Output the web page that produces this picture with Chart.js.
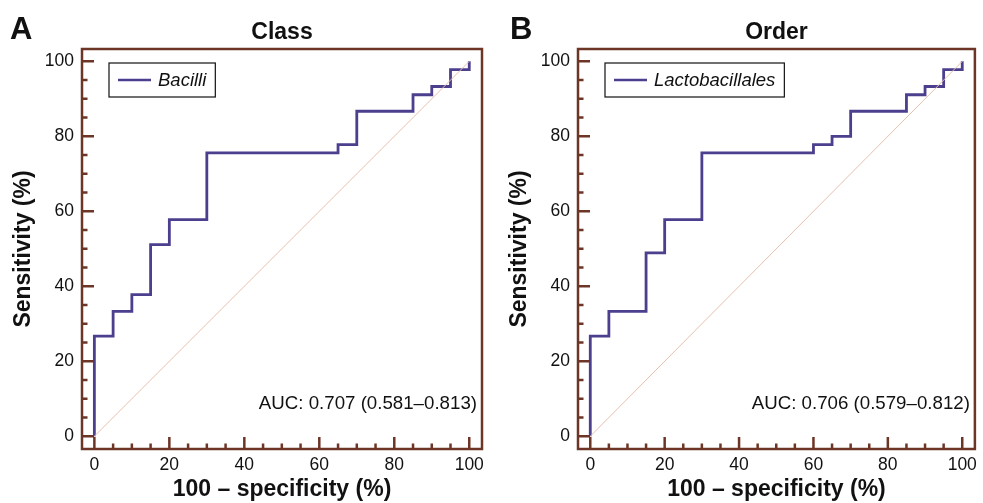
<!DOCTYPE html>
<html>
<head>
<meta charset="utf-8">
<script src="https://cdn.jsdelivr.net/npm/chart.js@4.4.1/dist/chart.umd.min.js"></script>
<style>
  html, body { margin: 0; padding: 0; background: #fff; }
  #wrap { position: relative; width: 983px; height: 503px; }
  .panel { position: absolute; top: 0; height: 503px; }
</style>
</head>
<body>
<div id="wrap">
  <div class="panel" style="left:0;width:496px"><canvas id="classChart"></canvas></div>
  <div class="panel" style="left:496px;width:487px"><canvas id="orderChart"></canvas></div>
</div>
<script>
// ROC operating points (100 - specificity, sensitivity), drawn as a step line
const classFpr = [0, 0, 5, 10, 15, 20, 30, 65, 70, 85, 90, 95, 100];
const classSens = [0, 26.7, 33.3, 37.8, 51.1, 57.8, 75.6, 77.8, 86.7, 91.1, 93.3, 97.8, 100];

const orderFpr = [0, 0, 5, 15, 20, 30, 60, 65, 70, 85, 90, 95, 100];
const orderSens = [0, 26.7, 33.3, 48.9, 57.8, 75.6, 77.8, 80, 86.7, 91.1, 93.3, 97.8, 100];

const refX = [0, 100];
const refY = [0, 100];

const tickValues = [0, 20, 40, 60, 80, 100];
const minorTickValues = [0, 5, 10, 15, 20, 25, 30, 35, 40, 45, 50, 55, 60, 65, 70, 75, 80, 85, 90, 95, 100];

const FONT = 'Liberation Sans, Arial, sans-serif';
const FRAME = '#6d3526';
const ROC_COLOR = '#4b3f8e';

const toPoints = (xs, ys) => xs.map((x, i) => ({ x: x, y: ys[i] }));

// frame, inward ticks, panel letter, title, legend box and AUC note
const decorPlugin = {
  id: 'decor',
  afterDraw(chart, args, opts) {
    const { ctx, chartArea: a } = chart;
    const xs = chart.scales.x, ys = chart.scales.y;
    ctx.save();

    ctx.strokeStyle = FRAME;
    ctx.lineWidth = 2.5;
    ctx.beginPath();
    minorTickValues.forEach(v => {
      const len = v % 20 === 0 ? 12 : 5.5;
      const px = xs.getPixelForValue(v);
      ctx.moveTo(px, a.bottom);
      ctx.lineTo(px, a.bottom - len);
      const py = ys.getPixelForValue(v);
      ctx.moveTo(a.left, py);
      ctx.lineTo(a.left + len, py);
    });
    ctx.stroke();
    ctx.strokeRect(a.left, a.top, a.right - a.left, a.bottom - a.top);

    ctx.fillStyle = '#111';
    ctx.textBaseline = 'alphabetic';
    ctx.textAlign = 'left';
    ctx.font = 'bold 31px ' + FONT;
    ctx.fillText(opts.letter, opts.letterX, 39);

    ctx.textAlign = 'center';
    ctx.font = 'bold 23px ' + FONT;
    ctx.fillText(opts.title, (a.left + a.right) / 2, 39);

    // legend
    ctx.font = 'italic 18.5px ' + FONT;
    const tw = ctx.measureText(opts.label).width;
    const bx = a.left + 27, by = a.top + 14;
    const bw = 49 + tw + 9, bh = 34;
    ctx.fillStyle = '#fff';
    ctx.fillRect(bx, by, bw, bh);
    ctx.strokeStyle = '#111';
    ctx.lineWidth = 1.2;
    ctx.strokeRect(bx, by, bw, bh);
    ctx.strokeStyle = ROC_COLOR;
    ctx.lineWidth = 2.5;
    ctx.beginPath();
    ctx.moveTo(bx + 9, by + 17);
    ctx.lineTo(bx + 42, by + 17);
    ctx.stroke();
    ctx.fillStyle = '#111';
    ctx.textAlign = 'left';
    ctx.textBaseline = 'middle';
    ctx.fillText(opts.label, bx + 49, by + 17.5);

    ctx.font = '18.7px ' + FONT;
    ctx.textAlign = 'right';
    ctx.fillText(opts.auc, a.right - 5, 404);
    ctx.restore();
  }
};

function makePanel(id, fpr, sens, opts) {
  const ctx = document.getElementById(id);
  return new Chart(ctx, {
    type: 'scatter',
    data: {
      datasets: [
        {
          label: 'reference',
          data: toPoints(refX, refY),
          showLine: true,
          borderColor: '#e6bfae',
          borderWidth: 1,
          pointRadius: 0
        },
        {
          label: opts.label,
          data: toPoints(fpr, sens),
          showLine: true,
          stepped: 'before',
          borderColor: ROC_COLOR,
          borderWidth: 2.8,
          pointRadius: 0
        }
      ]
    },
    options: {
      responsive: true,
      maintainAspectRatio: false,
      animation: false,
      layout: { padding: { left: 0, top: 49, right: opts.padRight, bottom: 0 } },
      plugins: {
        legend: { display: false },
        tooltip: { enabled: false },
        decor: opts
      },
      scales: {
        x: {
          type: 'linear',
          min: -3.3,
          max: 103.4,
          afterBuildTicks: s => { s.ticks = tickValues.map(v => ({ value: v })); },
          afterFit: s => { s.height = 54; },
          grid: { display: false, drawTicks: false },
          border: { display: false },
          ticks: { padding: 6, color: '#111', font: { family: FONT, size: 17.5 } },
          title: {
            display: true,
            text: '100 – specificity (%)',
            color: '#111',
            font: { family: FONT, size: 23, weight: 'bold' },
            padding: { top: 0, bottom: 0 }
          }
        },
        y: {
          type: 'linear',
          min: -3.4,
          max: 103.3,
          afterBuildTicks: s => { s.ticks = tickValues.map(v => ({ value: v })); },
          afterFit: s => { s.width = 82; },
          grid: { display: false, drawTicks: false },
          border: { display: false },
          ticks: { padding: 8, color: '#111', font: { family: FONT, size: 17.5 } },
          title: {
            display: true,
            text: 'Sensitivity (%)',
            color: '#111',
            font: { family: FONT, size: 23, weight: 'bold' },
            padding: { top: 10, bottom: 0 }
          }
        }
      }
    },
    plugins: [decorPlugin]
  });
}

makePanel('classChart', classFpr, classSens, {
  letter: 'A', letterX: 10, title: 'Class', label: 'Bacilli',
  auc: 'AUC: 0.707 (0.581–0.813)', padRight: 14
});
makePanel('orderChart', orderFpr, orderSens, {
  letter: 'B', letterX: 14, title: 'Order', label: 'Lactobacillales',
  auc: 'AUC: 0.706 (0.579–0.812)', padRight: 5
});
</script>
</body>
</html>
